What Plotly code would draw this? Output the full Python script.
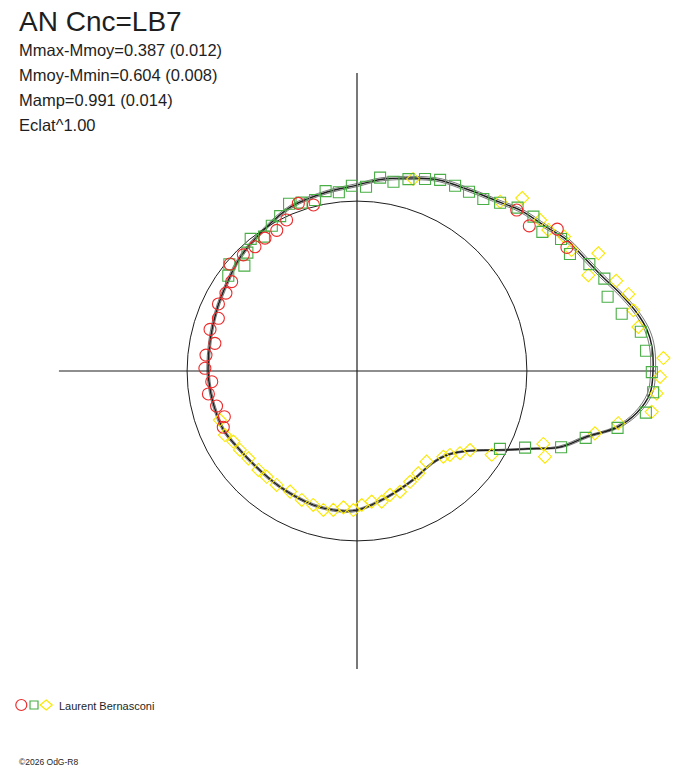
import numpy as np
import plotly.graph_objects as go

W, H = 688, 768

# relative brightness (eclat, max = 1) versus phase, per observer series
red_phase = [0.0847, 0.0981, 0.1114, 0.1256, 0.2908, 0.3036, 0.3194, 0.3325, 0.3464,
             0.3594, 0.3733, 0.3886, 0.4014, 0.4147, 0.4283, 0.4422, 0.4561, 0.4694,
             0.4833, 0.4972, 0.5117, 0.5244, 0.5389, 0.5528, 0.5633]
red_eclat = [0.823, 0.829, 0.761, 0.766, 0.580, 0.600, 0.563, 0.547, 0.546,
             0.543, 0.549, 0.561, 0.520, 0.515, 0.520, 0.501, 0.516, 0.489,
             0.513, 0.514, 0.492, 0.508, 0.489, 0.474, 0.490]

green_phase = [0.0111, 0.0219, 0.0339, 0.0458, 0.0569, 0.0686, 0.0800, 0.0914, 0.1025,
               0.1144, 0.1264, 0.1378, 0.1492, 0.1611, 0.1725, 0.1847, 0.1958, 0.2083,
               0.2197, 0.2311, 0.2422, 0.2544, 0.2661, 0.2775, 0.2883, 0.3006, 0.3114,
               0.3233, 0.3344, 0.3464, 0.3578, 0.3689, 0.3803, 0.3892, 0.3986, 0.9206,
               0.9319, 0.9431, 0.9547, 0.9658, 0.9772, 0.9886, 0.9994]
green_eclat = [0.979, 0.968, 0.915, 0.883, 0.892, 0.864, 0.821, 0.821, 0.783,
               0.792, 0.774, 0.746, 0.721, 0.714, 0.708, 0.704, 0.688, 0.671,
               0.651, 0.658, 0.623, 0.626, 0.607, 0.617, 0.595, 0.599, 0.610,
               0.584, 0.569, 0.552, 0.573, 0.545, 0.521, 0.562, 0.541, 0.550,
               0.624, 0.736, 0.805, 0.901, 0.986, 1.003, 0.996]

yellow_phase = [0.0067, 0.0247, 0.0344, 0.0439, 0.0533, 0.0625, 0.0722, 0.0817, 0.0917,
                0.1011, 0.1097, 0.1286, 0.1383, 0.2047, 0.5547, 0.5719, 0.5825, 0.5944,
                0.6078, 0.6253, 0.6375, 0.6522, 0.6694, 0.6856, 0.6997, 0.7122, 0.7231,
                0.7342, 0.7458, 0.7556, 0.7678, 0.7797, 0.7914, 0.8044, 0.8211, 0.8358,
                0.8542, 0.8756, 0.8831, 0.8928, 0.9028, 0.9114, 0.9319, 0.9406, 0.9592,
                0.9686, 0.9781, 0.9881, 0.9969]
yellow_eclat = [1.036, 0.962, 0.956, 0.953, 0.927, 0.846, 0.907, 0.832, 0.834,
                0.803, 0.802, 0.808, 0.749, 0.676, 0.492, 0.496, 0.481, 0.477,
                0.471, 0.472, 0.470, 0.471, 0.466, 0.474, 0.476, 0.483, 0.476,
                0.463, 0.470, 0.453, 0.444, 0.449, 0.433, 0.433, 0.415, 0.403,
                0.386, 0.411, 0.423, 0.445, 0.466, 0.536, 0.698, 0.676, 0.831,
                0.900, 1.005, 1.015, 1.024]

# fitted mean light curve
fit_phase = [0.0, 0.0128, 0.0222, 0.0325, 0.0458, 0.0581, 0.0717, 0.0889, 0.1033,
             0.1239, 0.1383, 0.1611, 0.1847, 0.2050, 0.2306, 0.2500, 0.2764, 0.3111,
             0.3436, 0.3769, 0.4056, 0.4347, 0.4667, 0.5000, 0.5214, 0.5406, 0.5661,
             0.5889, 0.6217, 0.6567, 0.6994, 0.7306, 0.7500, 0.7861, 0.8250, 0.8583,
             0.8806, 0.9019, 0.9194, 0.9317, 0.9431, 0.9556, 0.9661, 0.9764, 0.9881, 1.0]
fit_eclat = [1.000, 1.000, 0.990, 0.966, 0.926, 0.889, 0.861, 0.836, 0.804,
             0.774, 0.747, 0.720, 0.703, 0.679, 0.652, 0.628, 0.613, 0.598,
             0.571, 0.551, 0.530, 0.517, 0.507, 0.503, 0.500, 0.497, 0.493,
             0.480, 0.470, 0.470, 0.476, 0.476, 0.470, 0.439, 0.414, 0.402,
             0.416, 0.466, 0.551, 0.632, 0.733, 0.807, 0.899, 0.956, 0.993, 1.000]
fit_sigma_mag = 0.009

ECLAT_POW = 1.00
REF_LEVEL = 0.574      # reference circle
AXIS_LEN = 1.007       # length of the cross hairs

title = "AN Cnc=LB7"
info_lines = ["Mmax-Mmoy=0.387 (0.012)", "Mmoy-Mmin=0.604 (0.008)",
              "Mamp=0.991 (0.014)", "Eclat^1.00"]
observer = "Laurent Bernasconi"
copyright_txt = "©2026 OdG-R8"

RED = "#ee2a2a"
GREEN = "#4aae46"
YELLOW = "#fbe800"
INK = "#1e1e1e"

# polar area geometry, in pixels
cx, cy = 357, 371
R_PIX = 330
PIX_PER_UNIT = 296
r_edge = R_PIX / PIX_PER_UNIT


def px(x):
    return x / W


def py(y):
    return 1 - y / H


def to_r(eclat):
    return np.asarray(eclat, dtype=float) ** ECLAT_POW


def to_theta(phase):
    return np.asarray(phase, dtype=float) * 360.0


fig = go.Figure()

# cross hairs
for ang in (0, 90, 180, 270):
    fig.add_trace(go.Scatterpolar(r=[0, AXIS_LEN], theta=[ang, ang], mode="lines",
                                  line=dict(color=INK, width=1.2), hoverinfo="skip",
                                  showlegend=False))

# fitted curve with its +/- sigma envelope
fit_r = to_r(fit_eclat)
for k in (-1, 1):
    env = fit_r * 10 ** (0.4 * k * fit_sigma_mag)
    fig.add_trace(go.Scatterpolar(r=env, theta=to_theta(fit_phase), mode="lines",
                                  line=dict(color=INK, width=0.6, shape="spline"),
                                  showlegend=False, hoverinfo="skip"))
fig.add_trace(go.Scatterpolar(r=fit_r, theta=to_theta(fit_phase), mode="lines",
                              line=dict(color=INK, width=1.5, shape="spline"),
                              showlegend=False))

# observations
fig.add_trace(go.Scatterpolar(r=to_r(yellow_eclat), theta=to_theta(yellow_phase),
                              mode="markers", showlegend=False,
                              marker=dict(symbol="diamond-open", size=10,
                                          line=dict(color=YELLOW, width=1.1),
                                          color=YELLOW)))
fig.add_trace(go.Scatterpolar(r=to_r(green_eclat), theta=to_theta(green_phase),
                              mode="markers", showlegend=False,
                              marker=dict(symbol="square-open", size=11,
                                          line=dict(color=GREEN, width=1.1),
                                          color=GREEN)))
fig.add_trace(go.Scatterpolar(r=to_r(red_eclat), theta=to_theta(red_phase),
                              mode="markers", showlegend=False,
                              marker=dict(symbol="circle-open", size=12,
                                          line=dict(color=RED, width=1.1),
                                          color=RED)))

fig.update_layout(
    width=W, height=H,
    margin=dict(l=0, r=0, t=0, b=0),
    paper_bgcolor="white",
    font=dict(family="Liberation Sans, Arial, sans-serif", color=INK),
    polar=dict(
        domain=dict(x=[px(cx - R_PIX), px(cx + R_PIX)],
                    y=[py(cy + R_PIX), py(cy - R_PIX)]),
        bgcolor="white",
        radialaxis=dict(range=[0, r_edge], tickvals=[REF_LEVEL], showticklabels=False,
                        ticks="", showline=False, showgrid=True, gridcolor=INK,
                        gridwidth=1),
        angularaxis=dict(showgrid=False, showline=False, showticklabels=False,
                         ticks="", rotation=0, direction="counterclockwise"),
    ),
)

annotations = [dict(text=title, x=px(18), y=py(21), xanchor="left", yanchor="middle",
                    font=dict(size=28), borderpad=0)]
for i, line in enumerate(info_lines):
    annotations.append(dict(text=line, x=px(17), y=py(50 + 25 * i),
                            xanchor="left", yanchor="middle", font=dict(size=16.5)))
annotations.append(dict(text=observer, x=px(57), y=py(706), xanchor="left",
                        yanchor="middle", font=dict(size=11)))
annotations.append(dict(text=copyright_txt, x=px(17), y=py(762), xanchor="left",
                        yanchor="middle", font=dict(size=8.5)))
for a in annotations:
    a.update(xref="paper", yref="paper", showarrow=False)
fig.update_layout(annotations=annotations)

# legend glyphs for the three series
glyphs = [
    dict(type="circle", xanchor=px(21.3), x0=-5.5, x1=5.5, y0=-5.5, y1=5.5, line_color=RED),
    dict(type="rect", xanchor=px(34), x0=-4, x1=4, y0=-4, y1=4, line_color=GREEN),
    dict(type="path", xanchor=px(46.2), path="M -6 0 L 0 5 L 6 0 L 0 -5 Z",
         line_color=YELLOW),
]
for g in glyphs:
    g.update(xref="paper", yref="paper", xsizemode="pixel", ysizemode="pixel",
             yanchor=py(705), line_width=1.2)
    fig.add_shape(**g)

# drop the browser's default page margin so the figure fills the window
fig.write_html("out.html", config={"displayModeBar": False},
               post_script="document.body.style.margin = '0';")
